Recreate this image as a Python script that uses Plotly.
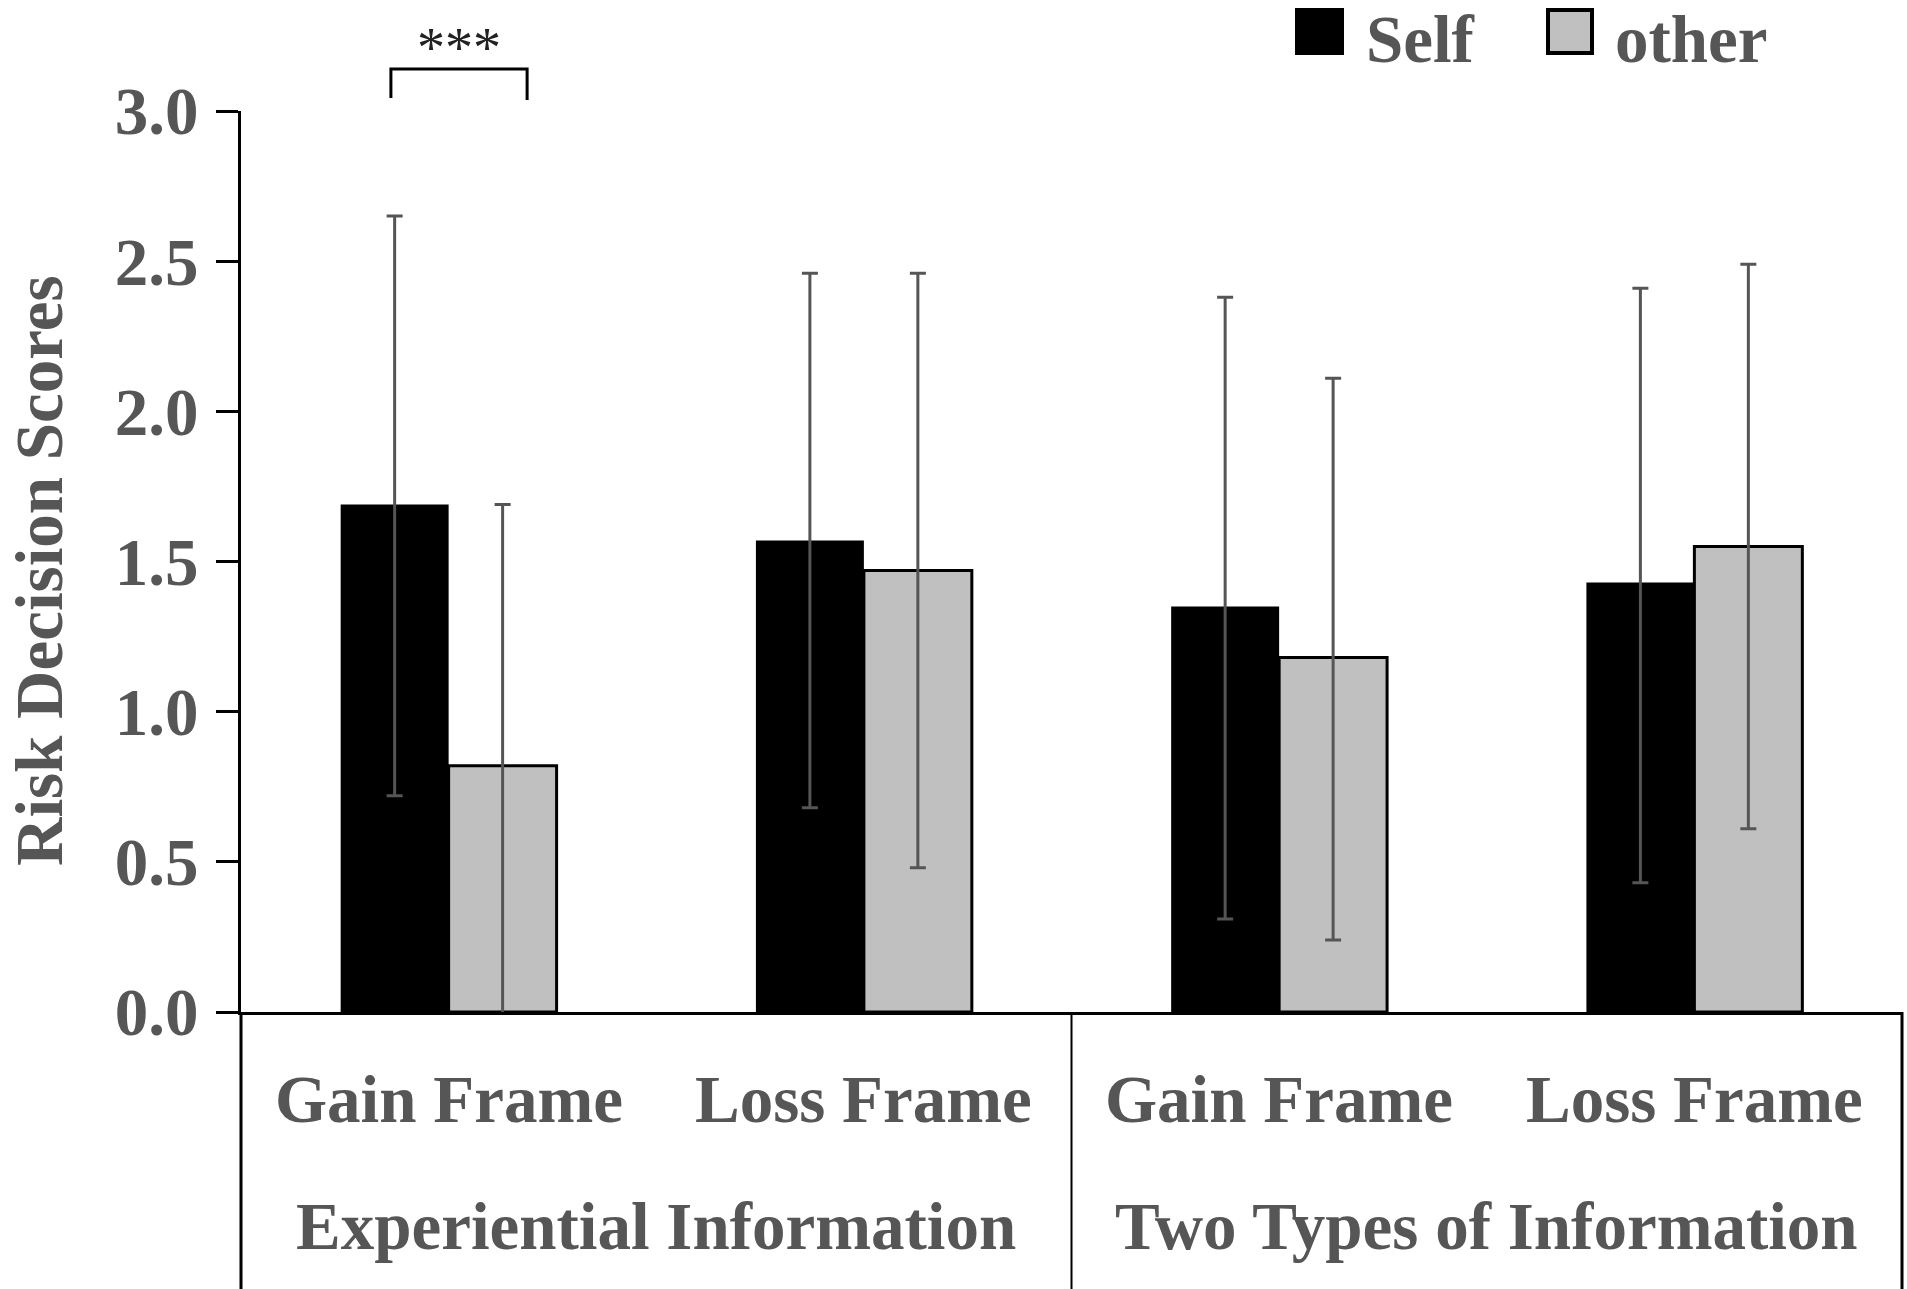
import plotly.graph_objects as go

# ---------------- data ----------------
frames = ["Gain Frame", "Loss Frame", "Gain Frame", "Loss Frame"]
info_types = ["Experiential Information", "Two Types of Information"]
series_names = ["Self", "other"]

self_mean = [1.69, 1.57, 1.35, 1.43]
self_err_plus = [0.96, 0.89, 1.03, 0.98]
self_err_minus = [0.97, 0.89, 1.04, 1.00]

other_mean = [0.82, 1.47, 1.18, 1.55]
other_err_plus = [0.87, 0.99, 0.93, 0.94]
other_err_minus = [0.84, 0.99, 0.94, 0.94]

y_ticks = [0.0, 0.5, 1.0, 1.5, 2.0, 2.5, 3.0]
sig_label = "***"

# ---------------- style ----------------
FONT = "Liberation Serif, Times New Roman, serif"
TXT = "#565656"
FS = 67

x_pos = list(range(len(frames)))

fig = go.Figure()
fig.add_trace(go.Bar(
    name=series_names[0], x=x_pos, y=self_mean,
    marker=dict(color="#000000", line=dict(width=0)),
    error_y=dict(type="data", symmetric=False, array=self_err_plus,
                 arrayminus=self_err_minus, color="#555555", thickness=3, width=8),
    cliponaxis=False, showlegend=False,
))
fig.add_trace(go.Bar(
    name=series_names[1], x=x_pos, y=other_mean,
    marker=dict(color="#c0c0c0", line=dict(width=3, color="#000000")),
    error_y=dict(type="data", symmetric=False, array=other_err_plus,
                 arrayminus=other_err_minus, color="#555555", thickness=3, width=8),
    cliponaxis=False, showlegend=False,
))

W, H = 1907, 1289
L, R, T, B = 241, 5, 111, 277
plot_h = H - T - B

def py(pix):
    # pixel row -> paper y
    return (H - B - pix) / plot_h

def pxx(pix):
    return (pix - L) / (W - L - R)

fig.update_layout(
    width=W, height=H,
    margin=dict(l=L, r=R, t=T, b=B),
    paper_bgcolor="white", plot_bgcolor="white",
    barmode="group", bargap=0.48, bargroupgap=0.0,
    showlegend=False,
    xaxis=dict(range=[-0.5, 3.5], showline=True, linecolor="black", linewidth=3,
               showticklabels=False, ticks="", showgrid=False, zeroline=False),
    yaxis=dict(range=[0, 3], tickvals=y_ticks, tickformat=".1f",
               showline=True, linecolor="black", linewidth=3,
               ticks="outside", ticklen=22, tickwidth=3, tickcolor="black",
               ticklabelstandoff=4,
               showgrid=False, zeroline=False,
               tickfont=dict(family=FONT, size=FS, color=TXT, weight="bold")),
)

# y-axis title
fig.add_annotation(text="Risk Decision Scores", textangle=-90,
                   xref="paper", yref="paper", x=pxx(0), y=py(571),
                   xanchor="left", yanchor="middle", showarrow=False,
                   font=dict(family=FONT, size=FS, color=TXT, weight="bold"))

# category labels (first level)
for i, f in enumerate(frames):
    fig.add_annotation(text=f, xref="x", yref="paper", x=x_pos[i], y=py(1099),
                       xanchor="center", yanchor="middle", showarrow=False,
                       font=dict(family=FONT, size=FS, color=TXT, weight="bold"))
# group labels (second level)
for g, name in enumerate(info_types):
    fig.add_annotation(text=name, xref="x", yref="paper", x=2 * g + 0.5, y=py(1226),
                       xanchor="center", yanchor="middle", showarrow=False,
                       font=dict(family=FONT, size=FS, color=TXT, weight="bold"))

# dividers below axis
y_bot = py(H)
for xv, wd in [(0.0, 3), (0.5, 2), (1.0, 3)]:
    fig.add_shape(type="line", xref="paper", yref="paper", x0=xv, x1=xv, y0=0, y1=y_bot,
                  line=dict(color="black", width=wd))

# significance bracket
bx0, bx1 = -0.139, 0.189
fig.add_shape(type="path", xref="x", yref="paper",
              path=f"M {bx0},{py(98)} L {bx0},{py(69)} L {bx1},{py(69)} L {bx1},{py(100)}",
              line=dict(color="black", width=3))
fig.add_annotation(text=sig_label, xref="x", yref="paper", x=(bx0 + bx1) / 2, y=py(48),
                   xanchor="center", yanchor="middle", showarrow=False,
                   font=dict(family=FONT, size=56, color="#222222"))

# custom legend
fig.add_shape(type="rect", xref="paper", yref="paper",
              x0=pxx(1295), x1=pxx(1344), y0=py(55), y1=py(8),
              fillcolor="black", line=dict(width=0))
fig.add_shape(type="rect", xref="paper", yref="paper",
              x0=pxx(1548), x1=pxx(1592), y0=py(53), y1=py(10),
              fillcolor="#c0c0c0", line=dict(width=4, color="black"))
fig.add_annotation(text=series_names[0], xref="paper", yref="paper", x=pxx(1364), y=py(0),
                   xanchor="left", yanchor="top", showarrow=False,
                   font=dict(family=FONT, size=FS, color=TXT, weight="bold"))
fig.add_annotation(text=series_names[1], xref="paper", yref="paper", x=pxx(1613), y=py(0),
                   xanchor="left", yanchor="top", showarrow=False,
                   font=dict(family=FONT, size=FS, color=TXT, weight="bold"))

fig.write_html("out.html",
               config={"displayModeBar": False},
               post_script="document.body.style.margin='0';document.body.style.overflow='hidden';")
